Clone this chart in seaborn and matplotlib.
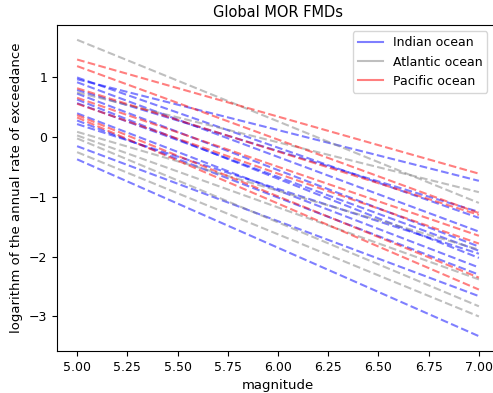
import numpy as np
import pandas as pd
import matplotlib
matplotlib.use("Agg")
import matplotlib.pyplot as plt
import seaborn as sns
from matplotlib.lines import Line2D

magnitudes = [5.0, 7.0]

indian_start = [1.00, 0.97, 0.92, 0.79, 0.73, 0.63, 0.57, 0.40, 0.28, 0.22, -0.15, -0.37]
indian_end = [-1.35, -0.73, -1.58, -1.25, -1.83, -2.02, -1.90, -2.18, -2.30, -1.95, -2.66, -3.33]

atlantic_start = [1.63, 0.75, 0.09, 0.03, -0.02, -0.25]
atlantic_end = [-1.10, -0.92, -1.88, -2.38, -2.83, -3.00]

pacific_start = [1.30, 1.19, 0.82, 0.66, 0.56, 0.37, 0.33]
pacific_end = [-0.61, -1.27, -1.30, -1.65, -1.78, -2.35, -2.55]

oceans = ["Indian ocean", "Atlantic ocean", "Pacific ocean"]
colors = ["blue", "gray", "red"]

rows = []
for ocean, starts, ends in zip(oceans,
                               [indian_start, atlantic_start, pacific_start],
                               [indian_end, atlantic_end, pacific_end]):
    for i, (s, e) in enumerate(zip(starts, ends)):
        rows.append({"ocean": ocean, "unit": f"{ocean}-{i}", "magnitude": magnitudes[0], "value": s})
        rows.append({"ocean": ocean, "unit": f"{ocean}-{i}", "magnitude": magnitudes[1], "value": e})
df = pd.DataFrame(rows)

fig = plt.figure(figsize=(4.93, 3.93), dpi=100)
ax = fig.add_axes([57 / 493, 1 - 351 / 393, (499 - 57) / 493, (351 - 25) / 393])

for ocean, c in zip(oceans, colors):
    sub = df[df["ocean"] == ocean]
    sns.lineplot(data=sub, x="magnitude", y="value", units="unit", estimator=None,
                 color=c, alpha=0.5, linestyle="--", linewidth=1.5, ax=ax, legend=False)

handles = [Line2D([0], [0], color=c, alpha=0.5, linewidth=1.5) for c in colors]
ax.legend(handles, oceans, loc="upper right", fontsize=9, bbox_to_anchor=(0.988, 1.0))

ax.set_title("Global MOR FMDs", fontsize=10.5)
ax.set_xlabel("magnitude", fontsize=9.5)
ax.set_ylabel("logarithm of the annual rate of exceedance", fontsize=9.5)
ax.set_xticks(np.arange(5.0, 7.01, 0.25))
ax.set_xticklabels([f"{v:.2f}" for v in np.arange(5.0, 7.01, 0.25)])
ax.tick_params(labelsize=9, length=3.5, width=0.8)
for sp in ax.spines.values():
    sp.set_linewidth(0.8)

fig.savefig("out.png", dpi=100)
